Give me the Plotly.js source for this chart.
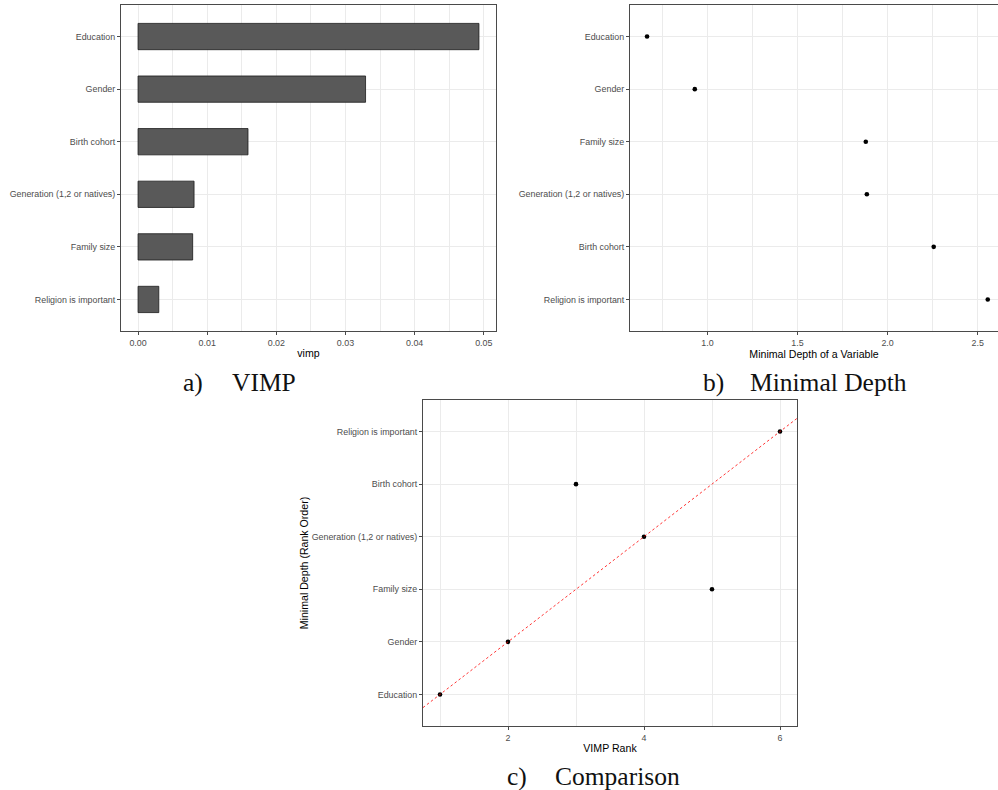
<!DOCTYPE html>
<html><head><meta charset="utf-8">
<script src="https://cdn.plot.ly/plotly-3.0.1.min.js"></script>
<style>html,body{margin:0;padding:0;background:#fff}#chart{width:998px;height:790px}</style>
</head><body><div id="chart"></div>
<script>
// ---- data ----
const vimpVars = ["Education","Gender","Birth cohort","Generation (1,2 or natives)","Family size","Religion is important"];
const vimpValues = [0.0493,0.0329,0.0159,0.0081,0.0079,0.0030];
const depthVars = ["Education","Gender","Family size","Generation (1,2 or natives)","Birth cohort","Religion is important"];
const depthValues = [0.665,0.930,1.879,1.885,2.256,2.556];
const compVars = ["Education","Gender","Birth cohort","Generation (1,2 or natives)","Family size","Religion is important"];
const vimpRank = [1,2,3,4,5,6];
const depthRank = [1,2,5,4,3,6];
const depthRankLabels = ["Education","Gender","Family size","Generation (1,2 or natives)","Birth cohort","Religion is important"];
const xTitleA = "vimp", xTitleB = "Minimal Depth of a Variable", xTitleC = "VIMP Rank", yTitleC = "Minimal Depth (Rank Order)";

// ---- helpers ----
const W = 998, H = 790;
const px = v => v / W, py = v => 1 - v / H;
const expand = (lo, hi) => { const s = hi - lo; return [lo - 0.05 * s, hi + 0.05 * s]; };
const tickFont = {family: "Liberation Sans, Arial, sans-serif", size: 8.9, color: "#4D4D4D"};
const titleFont = {family: "Liberation Sans, Arial, sans-serif", size: 10.6, color: "#000"};
const GRID = "#EBEBEB";
function axisBase(extra) {
  return Object.assign({
    showline: true, linecolor: "#4a4a4a", linewidth: 1,
    ticks: "outside", ticklen: 3, tickwidth: 1, tickcolor: "#4a4a4a",
    tickfont: tickFont, showgrid: true, gridcolor: GRID, gridwidth: 1.1,
    zeroline: false, fixedrange: true, automargin: false
  }, extra);
}

const rangeA = expand(0, Math.max(...vimpValues));
const fullB = expand(Math.min(...depthValues), Math.max(...depthValues));
// panel b is cropped at the right edge of the image
const cropFrac = (W - 630) / (1004.8 - 630);
const rangeB = [fullB[0], fullB[0] + cropFrac * (fullB[1] - fullB[0])];
const rangeCx = expand(Math.min(...vimpRank), Math.max(...vimpRank));
const nCat = depthRankLabels.length;

const traces = [
  {type: "bar", orientation: "h", x: vimpValues, y: vimpVars, xaxis: "x", yaxis: "y",
   width: 0.5, marker: {color: "#595959", line: {color: "#1a1a1a", width: 0.8}}, hoverinfo: "x+y"},
  {type: "scatter", mode: "markers", x: depthValues, y: depthVars, xaxis: "x2", yaxis: "y2",
   marker: {color: "#000", size: 4.6}},
  {type: "scatter", mode: "markers", x: vimpRank, y: depthRank, text: compVars, xaxis: "x3", yaxis: "y3",
   marker: {color: "#000", size: 4.6}},
  {type: "scatter", mode: "lines", x: rangeCx, y: rangeCx, xaxis: "x3", yaxis: "y3",
   line: {color: "red", width: 0.8, dash: "2.5px,2.5px"}, hoverinfo: "skip"}
];

const catA = vimpVars.slice().reverse();
const catB = depthVars.slice().reverse();

const layout = {
  width: W, height: H, margin: {l: 0, r: 0, t: 0, b: 0},
  paper_bgcolor: "#fff", plot_bgcolor: "#fff", showlegend: false,
  xaxis: axisBase({domain: [px(121), px(496)], anchor: "y", range: rangeA, mirror: true,
    dtick: 0.01, tick0: 0, tickformat: ".2f",
    minor: {dtick: 0.005, tick0: 0, showgrid: true, gridcolor: GRID, gridwidth: 0.6, ticks: ""},
    title: {text: xTitleA, font: titleFont, standoff: 2}}),
  yaxis: axisBase({domain: [py(331), py(5)], anchor: "x", type: "category",
    categoryorder: "array", categoryarray: catA, range: [-0.6, catA.length - 0.4], mirror: true}),
  xaxis2: axisBase({domain: [px(630), 1], anchor: "y2", range: rangeB, mirror: true,
    dtick: 0.5, tick0: 0, tickformat: ".1f",
    minor: {dtick: 0.25, tick0: 0, showgrid: true, gridcolor: GRID, gridwidth: 0.6, ticks: ""},
    title: {text: xTitleB, font: titleFont, standoff: 2}}),
  yaxis2: axisBase({domain: [py(331), py(5)], anchor: "x2", type: "category",
    categoryorder: "array", categoryarray: catB, range: [-0.6, catB.length - 0.4], mirror: false}),
  xaxis3: axisBase({domain: [px(423), px(797)], anchor: "y3", range: rangeCx, mirror: true,
    dtick: 2, tick0: 0,
    minor: {dtick: 1, tick0: 0, showgrid: true, gridcolor: GRID, gridwidth: 0.6, ticks: ""},
    title: {text: xTitleC, font: titleFont, standoff: 2}}),
  yaxis3: axisBase({domain: [py(726), py(400)], anchor: "x3", range: [0.4, nCat + 0.6], mirror: true,
    tickmode: "array", tickvals: depthRankLabels.map((_, i) => i + 1), ticktext: depthRankLabels,
    title: {text: yTitleC, font: titleFont, standoff: 0}}),
  annotations: [
    {text: "a)", x: px(182), y: py(382)},
    {text: "VIMP", x: px(231), y: py(382)},
    {text: "b)", x: px(702), y: py(382)},
    {text: "Minimal Depth", x: px(749), y: py(382)},
    {text: "c)", x: px(506), y: py(776)},
    {text: "Comparison", x: px(554), y: py(776)}
  ].map(a => Object.assign(a, {xref: "paper", yref: "paper", xanchor: "left", yanchor: "middle",
    showarrow: false, borderpad: 0, font: {family: "Liberation Serif, Times New Roman, serif", size: 25.5, color: "#111"}}))
};

Plotly.newPlot("chart", traces, layout, {displayModeBar: false, responsive: false});
</script>
</body></html>
